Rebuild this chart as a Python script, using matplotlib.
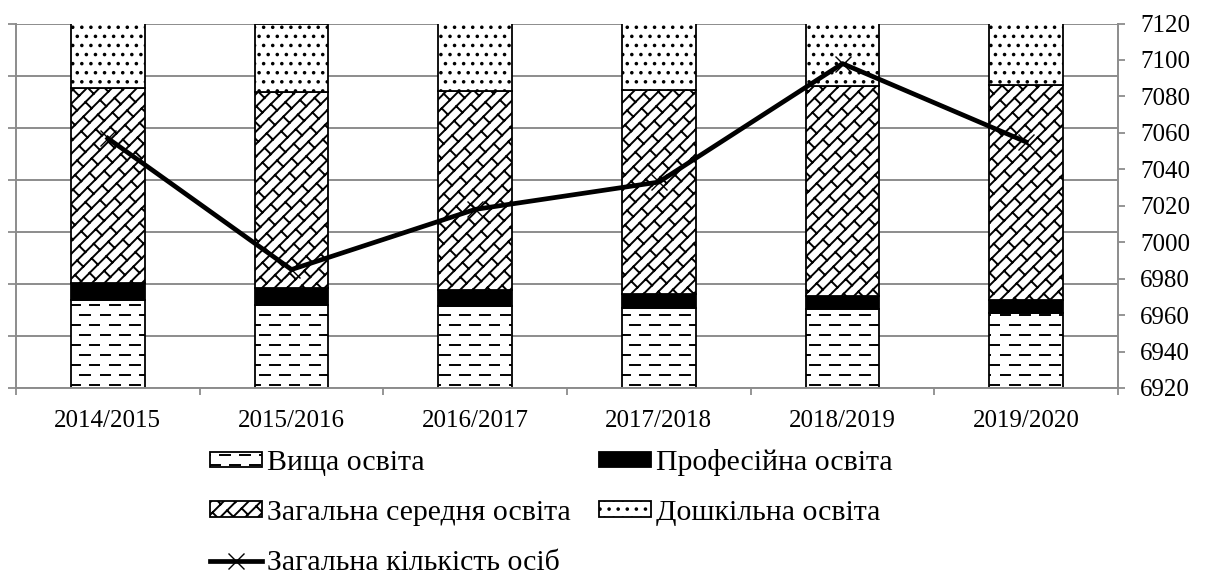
import numpy as np
import matplotlib
matplotlib.use('Agg')
import matplotlib.pyplot as plt
from matplotlib import hatch as mhatch
from matplotlib.path import Path


years      = ['2014/2015', '2015/2016', '2016/2017', '2017/2018', '2018/2019', '2019/2020']

# thousands of persons (bars, left axis, clipped at 7000)
vyshcha    = [1689, 1593, 1574, 1536, 1516, 1440]
profesiina = [ 326,  326,  307,  268,  250,  249]
zagalna    = [3743, 3762, 3820, 3916, 4031, 4127]
doshkilna  = [1299, 1303, 1318, 1313, 1301, 1239]

# total (line, right axis)
total      = [7057, 6985, 7018, 7033, 7098, 7055]

names = ['Вища освіта', 'Професійна освіта', 'Загальна середня освіта',
         'Дошкільна освіта', 'Загальна кількість осіб']


#----------------------------------------------------------
# custom hatches: dashes ('-'), diagonal bricks ('x'), dots ('.')
#----------------------------------------------------------
class DashHatch(mhatch.HatchPatternBase):
    def __init__(self, hatch, density):
        self.rows = 10 if '-' in hatch else 0
        self.cols = 5
        self.num_vertices = self.rows * self.cols * 2

    def set_vertices_and_codes(self, vertices, codes):
        k = 0
        for i in range(self.rows):
            y = (i + 0.5) / self.rows
            off = 0.1 if i % 2 else 0.0
            for j in range(self.cols):
                x0 = j / self.cols + off
                vertices[k]     = (x0, y)
                vertices[k + 1] = (x0 + 0.1, y)
                codes[k]     = Path.MOVETO
                codes[k + 1] = Path.LINETO
                k += 2


class BrickHatch(mhatch.HatchPatternBase):
    def __init__(self, hatch, density):
        self.n = 8 if 'x' in hatch else 0
        self.m = 3
        if self.n == 0:
            self.num_vertices = 0
            return
        nl = 2 * self.n + 1
        ns = (2 * self.n + 1) * (2 * self.m + 3)
        self.num_vertices = 2 * (nl + ns)

    def set_vertices_and_codes(self, vertices, codes):
        n, m = self.n, self.m
        segs = []
        for k in range(-n, n + 1):
            v = k / n
            segs.append(((0, v), (1, 1 + v)))
        for k in range(-n, n + 1):
            v1, v2 = (k - 1) / n, k / n
            for j in range(-1, 2 * m + 2):
                u = (j + 0.5 * (k % 2)) / m
                segs.append((((u - v1) / 2, (u + v1) / 2), ((u - v2) / 2, (u + v2) / 2)))
        for i, (a, b) in enumerate(segs):
            vertices[2 * i]     = a
            vertices[2 * i + 1] = b
            codes[2 * i]     = Path.MOVETO
            codes[2 * i + 1] = Path.LINETO


class DotHatch(mhatch.HatchPatternBase):
    def __init__(self, hatch, density):
        self.rows = 11 if '.' in hatch else 0
        self.circle = Path.unit_circle()
        self.r = 0.008
        self.centers = []
        for i in range(self.rows + 1 if self.rows else 0):
            y = i / self.rows
            off = 0.5 if i % 2 else 0.0
            for j in range(-1, self.rows + 1):
                self.centers.append(((j + off) / self.rows, y))
        self.num_vertices = len(self.centers) * len(self.circle.vertices)

    def set_vertices_and_codes(self, vertices, codes):
        nv = len(self.circle.vertices)
        for i, (cx, cy) in enumerate(self.centers):
            vertices[i * nv:(i + 1) * nv] = self.circle.vertices * self.r + (cx, cy)
            codes[i * nv:(i + 1) * nv] = self.circle.codes


mhatch._hatch_types = [DashHatch, BrickHatch, DotHatch]


def run():

    plt.rcParams['font.family'] = ['Liberation Serif', 'DejaVu Serif']
    plt.rcParams['hatch.linewidth'] = 1.4

    grey = '#8c8c8c'

    fig = plt.figure(figsize=(12.08, 5.78), dpi=100)
    ax  = fig.add_axes([16/1208, 1 - 388/578, 1102/1208, 364.5/578])

    x  = np.arange(len(years))
    w  = 0.4
    b1 = np.array(vyshcha)
    b2 = b1 + np.array(profesiina)
    b3 = b2 + np.array(zagalna)

    kw = dict(width=w, edgecolor='black', linewidth=1.3, zorder=2)
    h1 = ax.bar(x, vyshcha,    color='white', hatch='-', label=names[0], **kw)
    h2 = ax.bar(x, profesiina, bottom=b1, color='black', label=names[1], **kw)
    h3 = ax.bar(x, zagalna,    bottom=b2, color='white', hatch='x', label=names[2], **kw)
    h4 = ax.bar(x, doshkilna,  bottom=b3, color='white', hatch='.', label=names[3], **kw)

    ax.set_xlim(-0.5, 5.5)
    ax.set_ylim(0, 7000)
    ax.set_yticks(np.arange(0, 7001, 1000))
    ax.yaxis.grid(True, color=grey, linewidth=1.4)
    ax.set_axisbelow(True)

    ax.set_xticks(np.arange(-0.5, 6, 1))
    ax.set_xticklabels([])
    ax.set_xticks(x, minor=True)
    ax.set_xticklabels(years, minor=True, fontsize=18)
    ax.tick_params(axis='x', which='major', direction='out', length=5, width=1.3, color=grey)
    ax.tick_params(axis='x', which='minor', length=0, pad=16)
    ax.tick_params(axis='y', direction='out', length=6, width=1.3, color=grey, labelleft=False)

    for s in ['top', 'right']:
        ax.spines[s].set_visible(False)
    for s in ['left', 'bottom']:
        ax.spines[s].set_color(grey)
        ax.spines[s].set_linewidth(1.4)

    ax2 = ax.twinx()
    ln, = ax2.plot(x, total, color='black', linewidth=3.4, marker='x',
                   markersize=11, markeredgewidth=1.0, label=names[4], zorder=3)
    ax2.set_ylim(6920, 7120)
    ax2.set_yticks(np.arange(6920, 7121, 20))
    ax2.tick_params(axis='y', direction='out', length=5, width=1.3, color=grey,
                    labelsize=18, pad=11)
    for s in ['top', 'left', 'bottom']:
        ax2.spines[s].set_visible(False)
    ax2.spines['right'].set_color(grey)
    ax2.spines['right'].set_linewidth(1.4)

    handles = [h1, h3, ln, h2, h4]
    labels  = [names[0], names[2], names[4], names[1], names[3]]
    fig.legend(handles, labels, ncol=2, loc='upper left',
               bbox_to_anchor=(210/1208, 1 - 449/578), frameon=False,
               fontsize=21.5, handlelength=1.74, handleheight=0.42,
               handletextpad=0.17, labelspacing=0.8, columnspacing=0.95,
               borderpad=0, borderaxespad=0)

    fig.savefig('out.png', dpi=100)


if __name__ == "__main__":

    run()
